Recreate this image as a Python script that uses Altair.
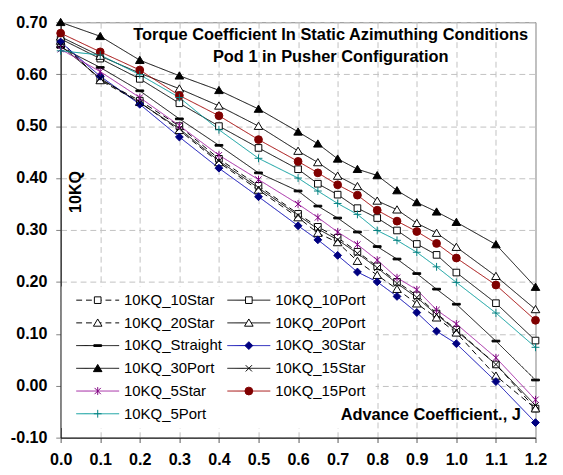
import altair as alt
import pandas as pd

# ---------------- data ----------------
J = [0.0, 0.1, 0.2, 0.3, 0.4, 0.5, 0.6, 0.65, 0.7, 0.75, 0.8, 0.85, 0.9, 0.95, 1.0, 1.1, 1.2]

series_names = ["10KQ_10Star", "10KQ_10Port", "10KQ_20Star", "10KQ_20Port",
                "10KQ_Straight", "10KQ_30Star", "10KQ_30Port", "10KQ_15Star",
                "10KQ_5Star", "10KQ_15Port", "10KQ_5Port"]

kq_10star = [0.660, 0.590, 0.549, 0.500, 0.437, 0.385, 0.331, 0.306, 0.285, 0.258, 0.230, 0.200, 0.174, 0.139, 0.108, 0.041, -0.044]
kq_10port = [0.668, 0.630, 0.591, 0.544, 0.500, 0.458, 0.417, 0.389, 0.368, 0.342, 0.323, 0.299, 0.273, 0.252, 0.218, 0.159, 0.087]
kq_20star = [0.664, 0.588, 0.546, 0.492, 0.430, 0.377, 0.324, 0.294, 0.276, 0.240, 0.213, 0.186, 0.158, 0.131, 0.102, 0.019, -0.044]
kq_20port = [0.672, 0.635, 0.602, 0.572, 0.539, 0.500, 0.452, 0.430, 0.404, 0.384, 0.356, 0.339, 0.313, 0.294, 0.267, 0.211, 0.147]
kq_straight = [0.652, 0.613, 0.568, 0.514, 0.463, 0.410, 0.375, 0.346, 0.323, 0.296, 0.268, 0.244, 0.216, 0.186, 0.157, 0.086, 0.011]
kq_30star = [0.662, 0.596, 0.542, 0.479, 0.419, 0.364, 0.308, 0.281, 0.251, 0.219, 0.200, 0.172, 0.141, 0.105, 0.081, 0.008, -0.071]
kq_30port = [0.700, 0.673, 0.627, 0.597, 0.569, 0.533, 0.489, 0.466, 0.437, 0.417, 0.405, 0.376, 0.353, 0.335, 0.315, 0.272, 0.190]
kq_15star = [0.655, 0.592, 0.545, 0.495, 0.433, 0.381, 0.328, 0.302, 0.281, 0.255, 0.227, 0.197, 0.170, 0.137, 0.106, 0.041, -0.038]
kq_5star = [0.648, 0.605, 0.555, 0.501, 0.444, 0.397, 0.350, 0.324, 0.296, 0.272, 0.242, 0.208, 0.185, 0.146, 0.119, 0.054, -0.027]
kq_15port = [0.679, 0.643, 0.608, 0.559, 0.520, 0.474, 0.432, 0.410, 0.387, 0.367, 0.338, 0.317, 0.297, 0.274, 0.246, 0.194, 0.126]
kq_5port = [0.645, 0.637, 0.599, 0.555, 0.493, 0.438, 0.400, 0.375, 0.351, 0.330, 0.299, 0.280, 0.257, 0.229, 0.199, 0.140, 0.074]

series_values = [kq_10star, kq_10port, kq_20star, kq_20port, kq_straight, kq_30star,
                 kq_30port, kq_15star, kq_5star, kq_15port, kq_5port]

x_ticks = [0.0, 0.1, 0.2, 0.3, 0.4, 0.5, 0.6, 0.7, 0.8, 0.9, 1.0, 1.1, 1.2]
y_ticks = [-0.1, 0.0, 0.1, 0.2, 0.3, 0.4, 0.5, 0.6, 0.7]

title_lines = ["Torque Coefficient In Static Azimuthing Conditions", "Pod 1 in Pusher Configuration"]
x_title = "Advance Coefficient., J"
y_title = "10KQ"

# ---------------- styles ----------------
SQUARE = "M-0.85,-0.85H0.85V0.85H-0.85Z"
TRIANGLE = "M0,-1L1.1,0.85H-1.1Z"
DIAMOND = "M0,-1L1,0L0,1L-1,0Z"
XMARK = "M-0.8,-0.8L0.8,0.8M-0.8,0.8L0.8,-0.8"
STAR = "M-0.8,-0.8L0.8,0.8M-0.8,0.8L0.8,-0.8M0,-1V1"
PLUS = "M-1,0H1M0,-1V1"
DASH = "M-1,-0.22H1V0.22H-1Z"

marker_paths = [SQUARE, SQUARE, TRIANGLE, TRIANGLE, DASH, DIAMOND, TRIANGLE, XMARK, STAR, "circle", PLUS]
line_colors = ["#000000", "#000000", "#000000", "#000000", "#000000", "#0000B0",
               "#000000", "#000000", "#A020A0", "#A00000", "#009999"]
marker_strokes = ["#000000", "#000000", "#000000", "#000000", "#000000", "#000080",
                  "#000000", "#000000", "#800080", "#800000", "#008080"]
marker_fills = ["white", "white", "white", "white", "#000000", "#000080",
                "#000000", "transparent", "transparent", "#800000", "transparent"]
line_dashes = [[6, 4], [1, 0], [6, 4], [1, 0], [1, 0], [1, 0], [1, 0], [1, 0], [1, 0], [1, 0], [1, 0]]
line_widths = [1, 1, 1, 1, 2.6, 1, 1, 1, 1, 1, 1]

FONT = "Liberation Sans, Arial, sans-serif"

rows = []
for s, vals in zip(series_names, series_values):
    for j, v in zip(J, vals):
        rows.append({"series": s, "J": j, "KQ": v})
df = pd.DataFrame(rows)

color_enc = alt.Color("series:N", scale=alt.Scale(domain=series_names, range=line_colors), legend=None)
dash_enc = alt.StrokeDash("series:N", scale=alt.Scale(domain=series_names, range=line_dashes), legend=None)
width_enc = alt.StrokeWidth("series:N", scale=alt.Scale(domain=series_names, range=line_widths), legend=None)
shape_enc = alt.Shape("series:N", scale=alt.Scale(domain=series_names, range=marker_paths), legend=None)
stroke_enc = alt.Stroke("series:N", scale=alt.Scale(domain=series_names, range=marker_strokes), legend=None)
fill_enc = alt.Fill("series:N", scale=alt.Scale(domain=series_names, range=marker_fills), legend=None)

x_axis = alt.Axis(values=x_ticks, format=".1f", title=None, labelFont=FONT, labelFontSize=16.5,
                  labelFontWeight="bold", labelColor="#000000", labelPadding=10, tickSize=5,
                  tickColor="#555555", domainColor="#000000", grid=True, gridColor="#C0C0C0",
                  gridDash=[6, 4], labelFlush=False, labelOverlap=False)
y_axis = alt.Axis(values=y_ticks, labelExpr="replace(format(datum.value, '.2f'), '\u2212', '-')",
                  title=None, labelFont=FONT, labelFontSize=16.5, labelFontWeight="bold",
                  labelColor="#000000", labelPadding=9, tickSize=5, tickColor="#808080",
                  domainColor="#000000", grid=True, gridColor="#C0C0C0", gridDash=[6, 4],
                  labelFlush=False, labelOverlap=False)

x_enc = alt.X("J:Q", scale=alt.Scale(domain=[0, 1.2], nice=False, zero=False), axis=x_axis)
y_enc = alt.Y("KQ:Q", scale=alt.Scale(domain=[-0.1, 0.7], nice=False, zero=False), axis=y_axis)

lines = alt.Chart(df).mark_line().encode(
    x=x_enc, y=y_enc, color=color_enc, strokeDash=dash_enc, strokeWidth=width_enc,
    order=alt.Order("J:Q"))

points = alt.Chart(df).mark_point(size=64, strokeWidth=1, opacity=1, filled=False).encode(
    x=x_enc, y=y_enc, shape=shape_enc, stroke=stroke_enc, fill=fill_enc)

main = alt.layer(lines, points)

# ---------------- legend (built from series list) ----------------
one = pd.DataFrame({"k": [0]})
leg_box = alt.Chart(one).mark_rect(color="white").encode(
    x=alt.value(1), x2=alt.value(323), y=alt.value(271), y2=alt.value(416))

leg_rows = []
for i, s in enumerate(series_names):
    col, row = i % 2, i // 2
    x1 = 16 + col * 155
    leg_rows.append({"series": s, "lx1": x1, "lx2": x1 + 44, "lxc": x1 + 22,
                     "lt": x1 + 49, "ly": 285 + row * 23.3})
leg_df = pd.DataFrame(leg_rows)

leg_rules = alt.Chart(leg_df).mark_rule().encode(
    x=alt.X("lx1:Q", scale=None, axis=None), x2="lx2:Q",
    y=alt.Y("ly:Q", scale=None, axis=None),
    color=color_enc, strokeDash=dash_enc, strokeWidth=width_enc)
leg_points = alt.Chart(leg_df).mark_point(size=64, strokeWidth=1, opacity=1, filled=False).encode(
    x=alt.X("lxc:Q", scale=None, axis=None), y=alt.Y("ly:Q", scale=None, axis=None),
    shape=shape_enc, stroke=stroke_enc, fill=fill_enc)
leg_text = alt.Chart(leg_df).mark_text(align="left", baseline="middle", font=FONT,
                                       fontSize=15.3, color="#000000").encode(
    x=alt.X("lt:Q", scale=None, axis=None), y=alt.Y("ly:Q", scale=None, axis=None),
    text="series:N")

t1 = alt.Chart(one).mark_text(text=title_lines[0], font=FONT, fontSize=16.8, fontWeight="bold",
                              align="center", baseline="middle", color="#000000").encode(
    x=alt.value(277), y=alt.value(13.5))
t2 = alt.Chart(one).mark_text(text=title_lines[1], font=FONT, fontSize=16.8, fontWeight="bold",
                              align="center", baseline="middle", color="#000000").encode(
    x=alt.value(277), y=alt.value(36))
yt = alt.Chart(one).mark_text(text=y_title, font=FONT, fontSize=16.5, fontWeight="bold",
                              align="center", baseline="middle", angle=270, color="#000000").encode(
    x=alt.value(16), y=alt.value(174))
xt = alt.Chart(one).mark_text(text=x_title, font=FONT, fontSize=16.8, fontWeight="bold",
                              align="right", baseline="middle", color="#000000").encode(
    x=alt.value(472), y=alt.value(402.6))

chart = alt.layer(main, leg_box, leg_rules, leg_points, leg_text, t1, t2, yt, xt).resolve_scale(
    x="independent", y="independent"
).properties(
    width=487, height=426,
    padding={"left": 54, "top": 8.7, "right": 20, "bottom": 30},
    autosize=alt.AutoSizeParams(type="none"),
).configure_view(stroke="#808080", strokeWidth=1)

chart.save("out.html", embed_options={"renderer": "svg", "actions": False})
